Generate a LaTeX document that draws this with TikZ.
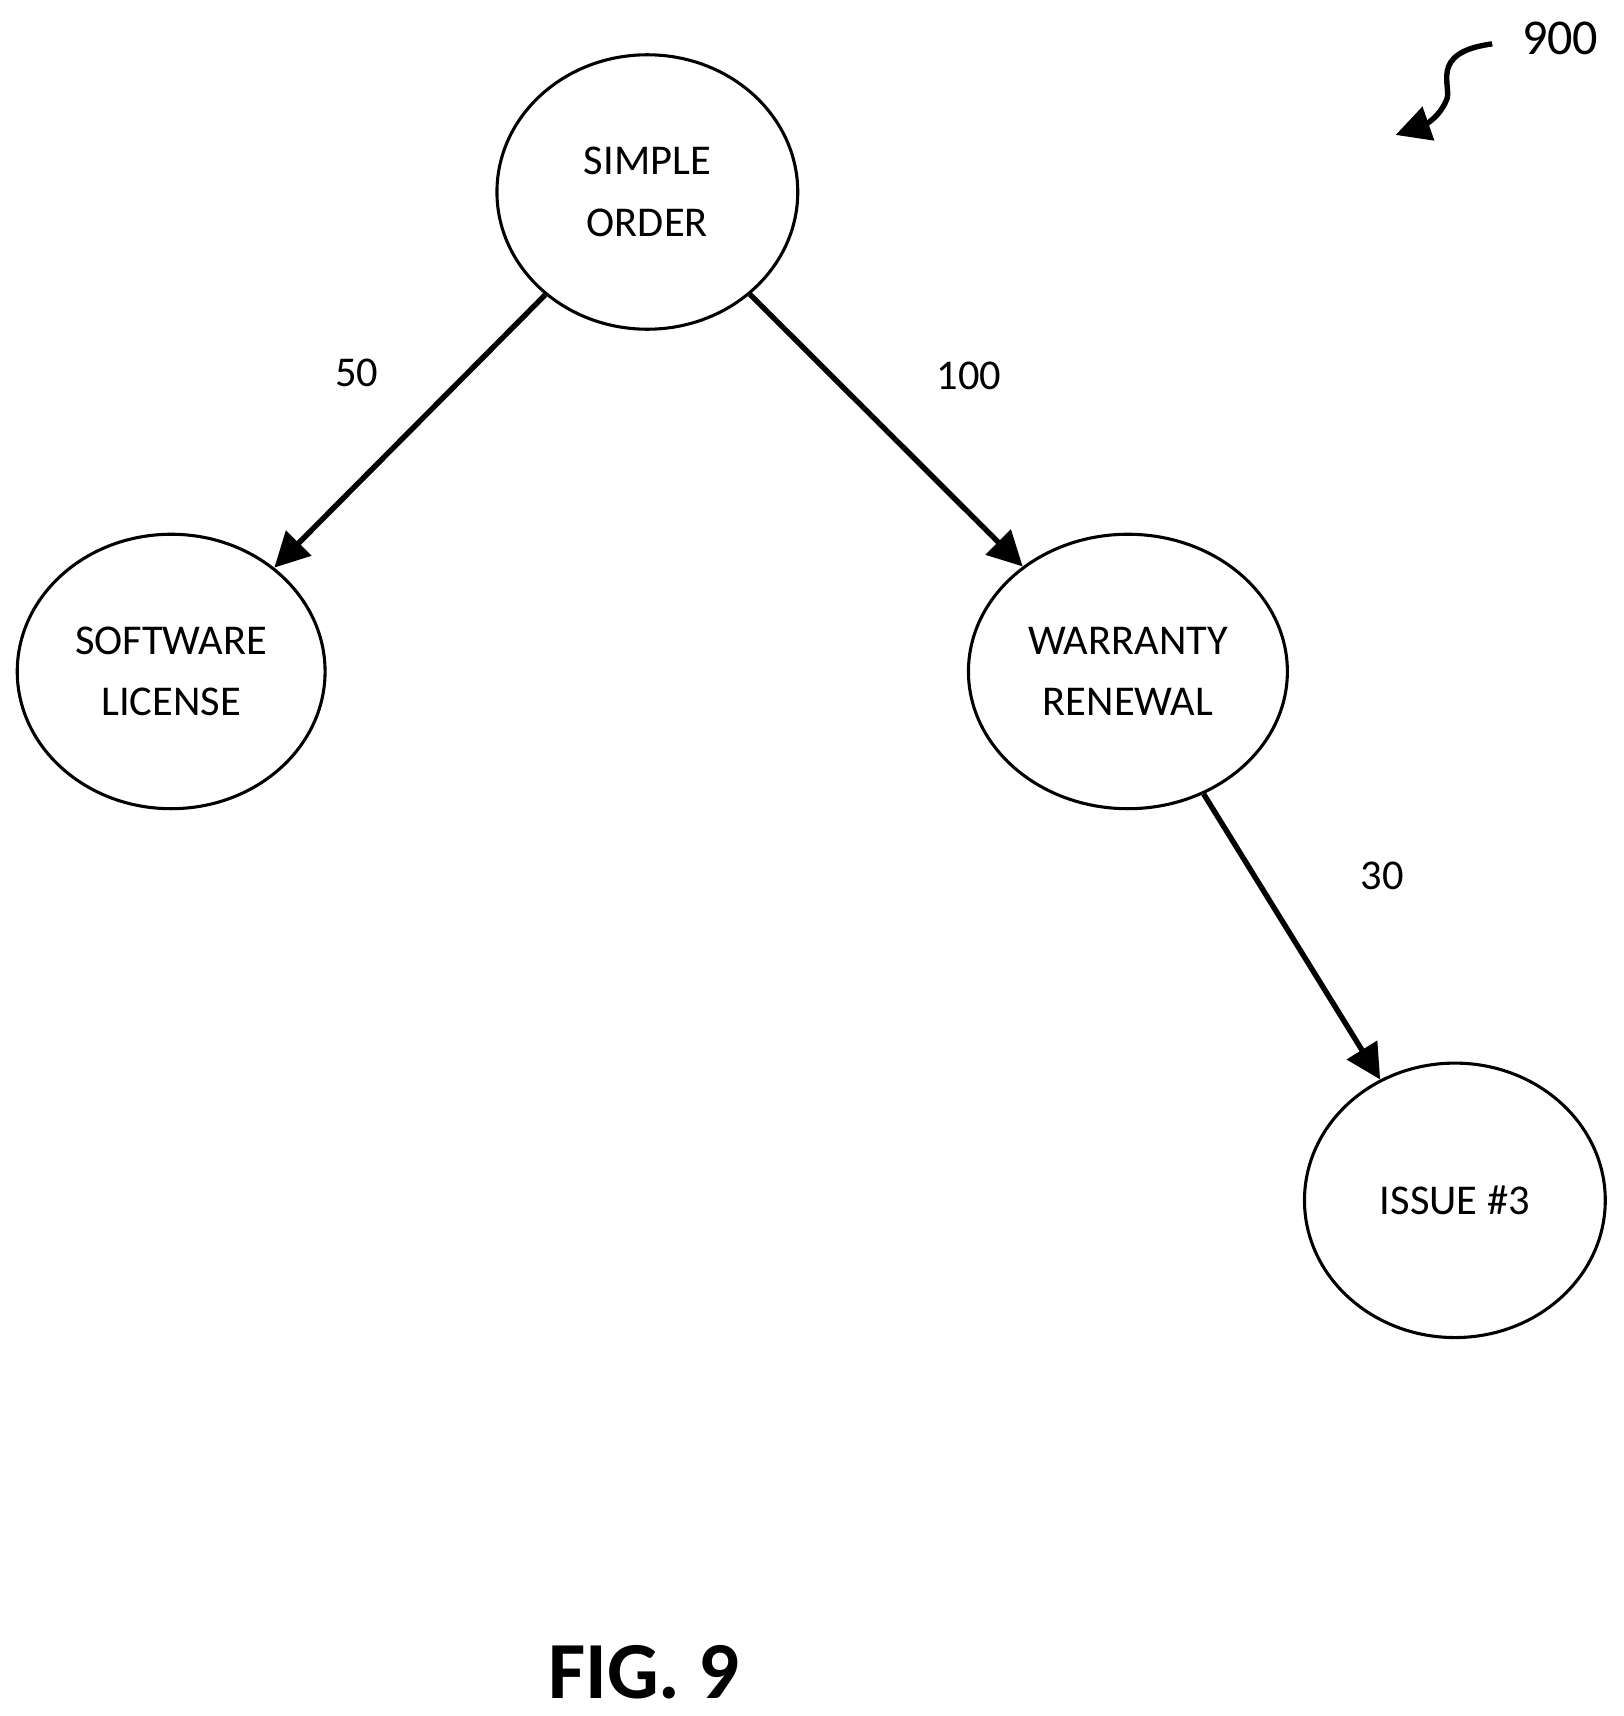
\documentclass[tikz,border=0pt]{standalone}
\usepackage{fontspec}
\setmainfont{Carlito}
\usetikzlibrary{shapes.geometric,arrows.meta}
\begin{document}
\begin{tikzpicture}[x=0.01cm,y=-0.01cm,
  st/.style={ellipse,draw,line width=0.8pt,minimum width=2.74cm,minimum height=2.5cm,align=center,font=\fontsize{11}{16}\selectfont},
  ar/.style={line width=1.4pt,-{Triangle[length=9pt,width=9pt]}},
  lb/.style={font=\fontsize{11}{13}\selectfont}]
\useasboundingbox (0,0) rectangle (1480,1564);
\node[st] (so) at (590,175) {SIMPLE\\ORDER};
\node[st] (sl) at (156,612) {SOFTWARE\\LICENSE};
\node[st] (wr) at (1028,612) {WARRANTY\\RENEWAL};
\node[st] (is) at (1326,1094) {ISSUE \#3};
\draw[ar] (so) -- (sl);
\draw[ar] (so) -- (wr);
\draw[ar] (wr) -- (is);
\node[lb] (l50) at (325,340) {50};
\node[lb] (l100) at (883,343) {100};
\node[lb] (l30) at (1260,798) {30};
\node[font=\fontsize{13}{15}\selectfont] (ref) at (1422,35) {900};
\coordinate (rs) at (1360,40);
\coordinate (re) at (1272,123);
\draw[line width=1.4pt,-{Triangle[length=9pt,width=9pt]}] (rs) .. controls (1300,48) and (1325,80) .. (1318,92) .. controls (1310,110) and (1295,115) .. (re);
\node[font=\bfseries\fontsize{21}{24}\selectfont] (fig) at (587,1524) {FIG. 9};
\end{tikzpicture}
\end{document}
